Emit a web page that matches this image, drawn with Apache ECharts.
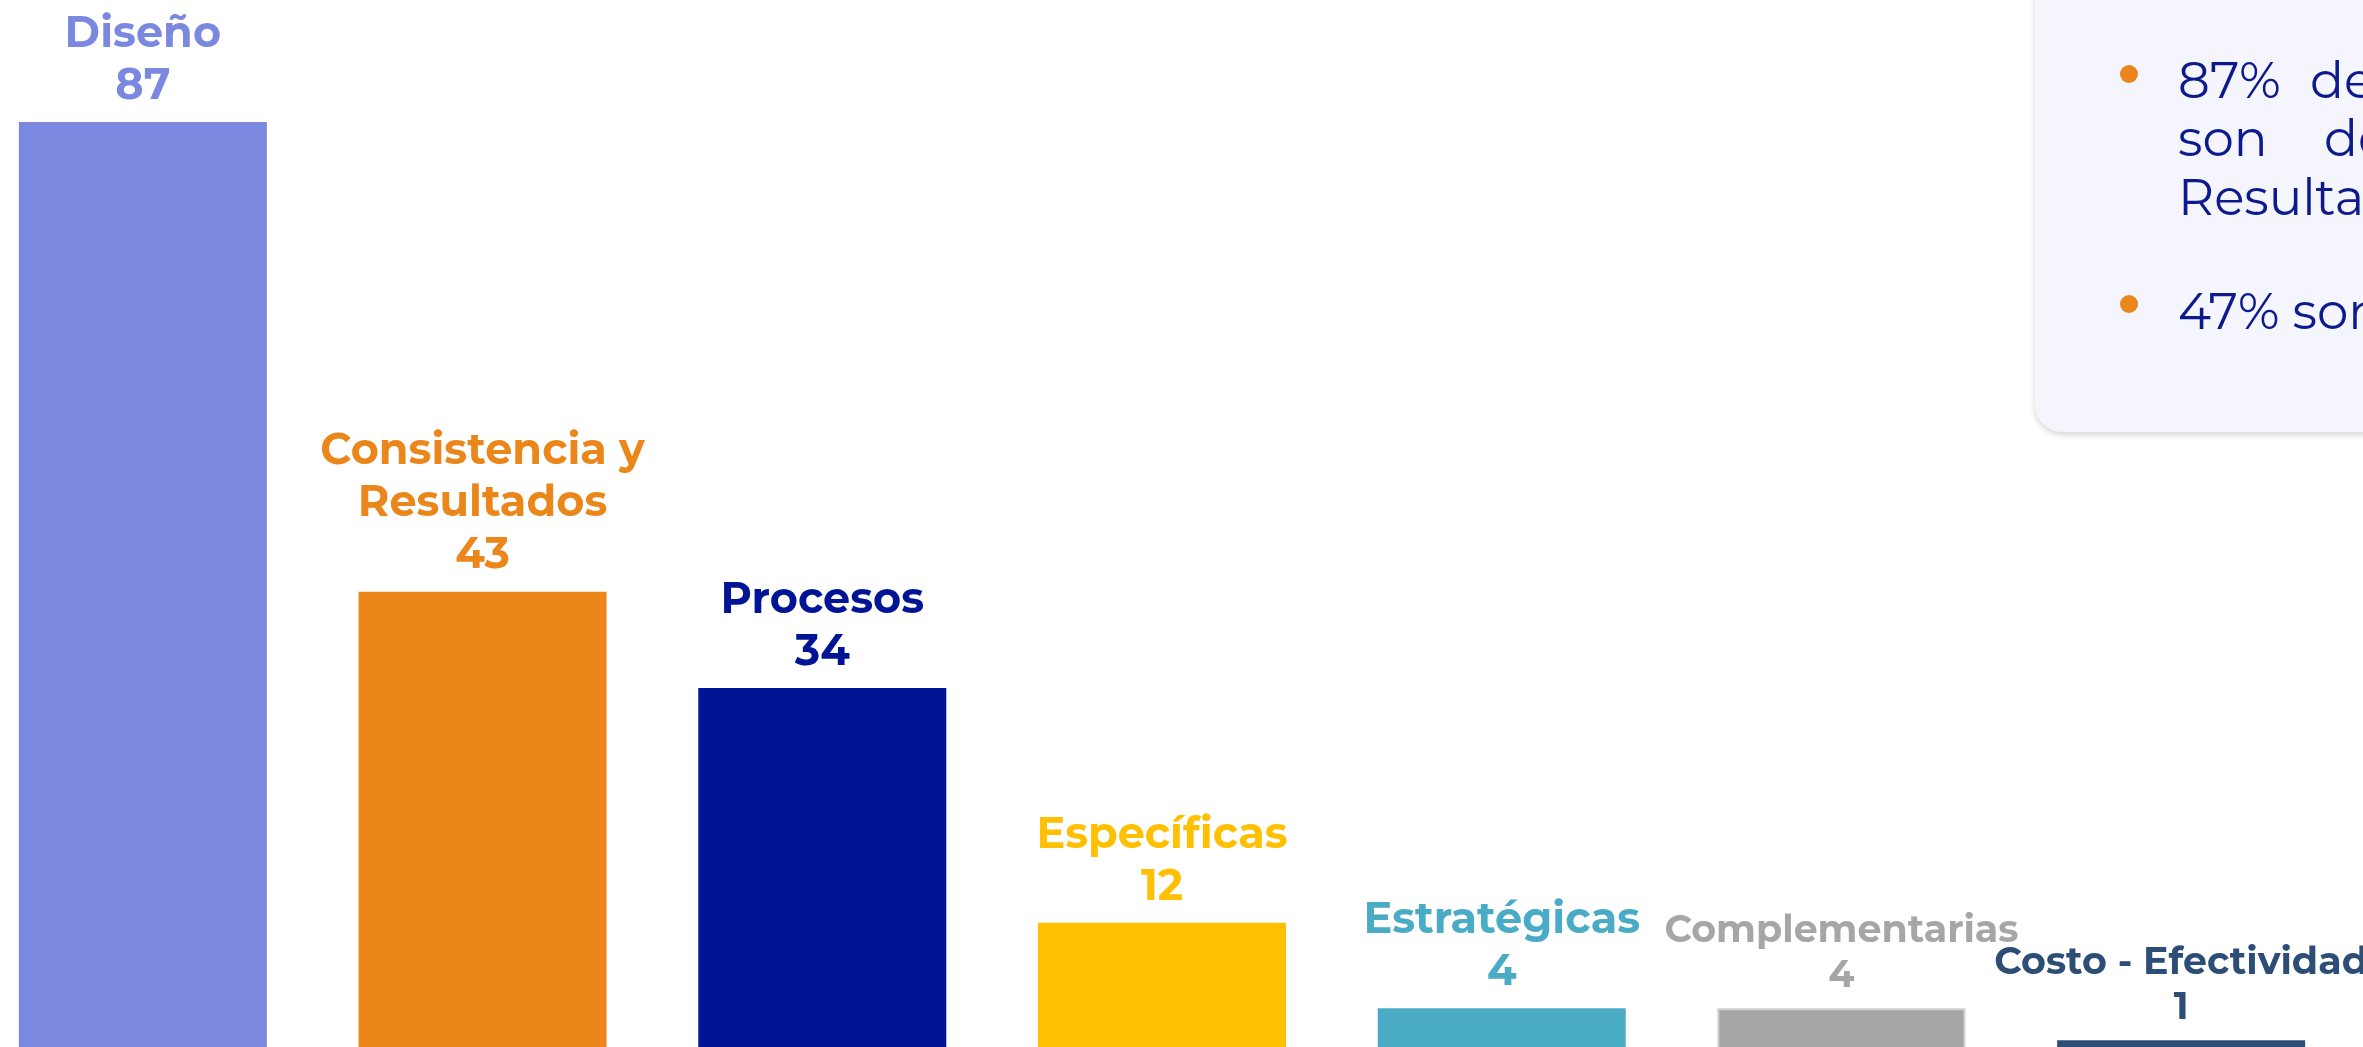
<!DOCTYPE html>
<html>
<head>
<meta charset="utf-8">
<script src="https://cdn.jsdelivr.net/npm/echarts@6/dist/echarts.min.js"></script>
<style>
html,body{margin:0;padding:0;background:#ffffff;}
#chart{width:2363px;height:1047px;}
</style>
</head>
<body>
<div id="chart"></div>
<script>
// ---- data ----
const categories = ['Diseño', 'Consistencia y\nResultados', 'Procesos', 'Específicas', 'Estratégicas', 'Complementarias', 'Costo - Efectividad'];
const values = [87, 43, 34, 12, 4, 4, 1];
const barColors = ['#7B88DF', '#EA861A', '#001596', '#FEC000', '#4AABC6', '#A6A6A6', '#2C4E76'];
const labelSizes = [43, 43, 43, 43, 43, 38, 38];
const noteLines = [
  ['87%', 'de las evaluaciones'],
  ['son', 'de Consistencia y'],
  ['Resultados y Procesos'],
  ['47% son de Diseño']
];

const FONT = "Montserrat, 'Open Sans', sans-serif";

const chart = echarts.init(document.getElementById('chart'), null, {renderer: 'canvas'});

const seriesData = values.map((v, i) => ({
  value: v,
  itemStyle: {
    color: barColors[i],
    borderColor: i === 5 ? '#CFCFCF' : barColors[i],
    borderWidth: i === 5 ? 2 : 0
  },
  label: {
    color: barColors[i],
    fontSize: labelSizes[i],
    lineHeight: labelSizes[i] === 43 ? 52 : 45
  }
}));

// note box graphics
const textColor = '#0D1A8E';
const bulletColor = '#EA861A';
const lineY = [83, 141, 200, 314];
const graphics = [
  {
    type: 'rect',
    shape: {x: 2035, y: -60, width: 400, height: 492, r: 27},
    style: {fill: '#F5F6FD', shadowBlur: 6, shadowOffsetY: 3, shadowColor: 'rgba(0,0,0,0.16)'},
    z: 10
  },
  {type: 'circle', shape: {cx: 2129, cy: 74, r: 9}, style: {fill: bulletColor}, z: 11},
  {type: 'circle', shape: {cx: 2129, cy: 304, r: 9}, style: {fill: bulletColor}, z: 11}
];
const secondX = [2310, 2324];
noteLines.forEach((parts, li) => {
  parts.forEach((t, pi) => {
    graphics.push({
      type: 'text',
      x: pi === 0 ? 2178 : secondX[li],
      y: lineY[li],
      z: 12,
      style: {
        text: t,
        fill: textColor,
        font: "400 50px Montserrat, 'Open Sans', sans-serif",
        verticalAlign: 'middle',
        align: 'left'
      }
    });
  });
});

chart.setOption({
  animation: false,
  grid: {left: -27, right: 12, top: 90, bottom: -4, containLabel: false, outerBoundsMode: 'none'},
  xAxis: {
    type: 'category',
    data: categories,
    axisLine: {show: false},
    axisTick: {show: false},
    axisLabel: {show: false}
  },
  yAxis: {
    type: 'value',
    min: 0,
    max: 90,
    show: false,
    splitLine: {show: false}
  },
  series: [{
    type: 'bar',
    data: seriesData,
    barWidth: 248,
    label: {
      show: true,
      position: 'top',
      distance: 10,
      fontFamily: FONT,
      fontWeight: 'bold',
      align: 'center',
      formatter: p => p.name + '\n' + p.value
    }
  }],
  graphic: graphics
});
</script>
</body>
</html>
